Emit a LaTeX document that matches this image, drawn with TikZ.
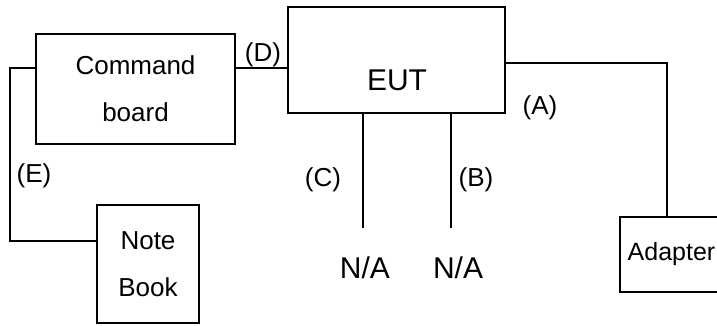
\documentclass[tikz,border=0pt]{standalone}
\usepackage{fontspec}
\setmainfont{Liberation Sans}
\begin{document}
\begin{tikzpicture}[x=1pt,y=-1pt,
  box/.style={draw=black, line width=1.5pt, rectangle, inner sep=0pt, align=center},
  wire/.style={draw=black, line width=1.5pt},
  lbl/.style={font=\fontsize{26}{30}\selectfont, inner sep=0pt},
  big/.style={font=\fontsize{30}{36}\selectfont, inner sep=0pt}]
\useasboundingbox (0,0) rectangle (717,325);
\node[box, minimum width=199pt, minimum height=110pt, font=\fontsize{26}{47}\selectfont] (cb) at (135.5,89) {Command\\board};
\node[box, minimum width=217pt, minimum height=106pt] (eut) at (396.5,60) {};
\node[big] (eutt) at (397,80) {EUT};
\node[box, minimum width=102pt, minimum height=118pt, font=\fontsize{26}{47}\selectfont] (nb) at (148,264) {Note\\Book};
\node[box, inner xsep=7.7pt, minimum height=75pt, font=\fontsize{25}{30}\selectfont] (ad) at (671.5,254.5) {Adapter};
\coordinate (cend) at (363,228);
\coordinate (bend) at (451,228);
\draw[wire] ([yshift=21pt]cb.east) -- ([yshift=21pt]cb.east -| eut.west);
\draw[wire] ([yshift=21pt]cb.west) -| (10,241) -- ([yshift=23pt]nb.west);
\draw[wire] ([yshift=-3pt]eut.east) -| ([xshift=-4.5pt]ad.north);
\draw[wire] (eut.south -| cend) -- (cend);
\draw[wire] (eut.south -| bend) -- (bend);
\node[lbl] (ld) at (263,55) {(D)};
\node[lbl] (le) at (34,176) {(E)};
\node[lbl] (la) at (540,108) {(A)};
\node[lbl] (lc) at (323,180) {(C)};
\node[lbl] (lb) at (476,180) {(B)};
\node[big] (na1) at (365,268) {N/A};
\node[big] (na2) at (458,268) {N/A};
\end{tikzpicture}
\end{document}
